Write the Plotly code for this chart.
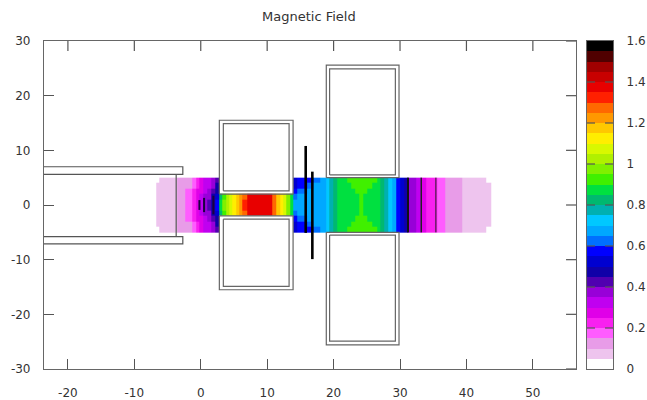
import plotly.graph_objects as go

TITLE = "Magnetic Field"
x_ticks = [-20, -10, 0, 10, 20, 30, 40, 50]
y_ticks = [-30, -20, -10, 0, 10, 20, 30]
cb_ticks = [0, 0.2, 0.4, 0.6, 0.8, 1, 1.2, 1.4, 1.6]
cb_labels = ["0", "0.2", "0.4", "0.6", "0.8", "1", "1.2", "1.4", "1.6"]

palette = ["#ffffff", "#eec4ee", "#e89ce8", "#ff5cff", "#f820f0", "#e000e8", "#c000f0", "#9800d8",
           "#5000b0", "#1000a8", "#0000d0", "#0000ff", "#0070ff", "#00a8ff", "#00c8ff", "#00b0b0",
           "#00b870", "#00e040", "#40f000", "#80f000", "#b0f000", "#d8f800", "#ffee00", "#ffc800",
           "#ff9800", "#ff6800", "#ff2000", "#e80000", "#c80000", "#a00000", "#500000", "#000000"]

field_x_edges = [-6.7, -6.3, -3.5, -2.3, -1.3, -0.7, -0.2, 0.4, 1.0, 1.6, 2.2, 2.8,
                 3.3, 3.8, 4.3, 4.8, 5.3, 5.8, 6.3, 7.0, 10.8, 11.4, 11.9, 12.4, 12.9, 13.4, 13.9,
                 14.5, 15.2, 16, 17, 18, 18.9, 19.4, 20, 20.6, 21.3, 22, 22.6, 23.2, 23.8, 24.5,
                 25.1, 25.8, 26.5, 27, 27.6, 28.2, 28.8, 29.4, 30, 30.6, 31.2, 31.8, 32.5, 33.2,
                 34, 35.6, 36.8, 39.3, 43, 43.8]
field_y_edges = [-5, -4, -3, -2, -1, 0, 1, 2, 3, 4, 5]
N = None
band_0_1 = [.075, .075, .125, .175, .225, .275, .325, .375, .425, .475, .575,
            .875, .975, 1.025, 1.075, 1.125, 1.175, 1.225, 1.325, 1.375, 1.275, 1.175, 1.125, 1.075, .975, .875,
            .675, .675, .675, .675, .675, .675, .725, .775, .825, .875, .875, .875, .875, .875, .925,
            .875, .875, .875, .875, .825, .775, .725, .675, .575, .525, .475, .375, .375, .325, .275,
            .225, .175, .125, .075, .075]
band_1_2 = [.075, .075, .125, .175, .225, .275, .325, .375, .375, .475, .525,
            .825, .925, 1.025, 1.075, 1.125, 1.175, 1.225, 1.275, 1.375, 1.275, 1.175, 1.125, 1.075, .975, .875,
            .625, .675, .675, .675, .675, .675, .725, .775, .825, .875, .875, .875, .875, .875, .925,
            .875, .875, .875, .875, .825, .775, .725, .675, .575, .525, .475, .375, .375, .325, .275,
            .225, .175, .125, .075, .075]
band_2_3 = [.075, .075, .125, .175, .225, .275, .275, .325, .375, .425, .475,
            N, N, N, N, N, N, N, N, N, N, N, N, N, N, N,
            .575, .625, .625, .675, .675, .675, .725, .775, .825, .875, .875, .875, .875, .925, .925,
            .925, .875, .875, .875, .825, .775, .725, .675, .575, .525, .475, .375, .375, .325, .275,
            .225, .175, .125, .075, .075]
band_3_4 = [.075, .075, .125, .125, .175, .225, .275, .325, .325, .375, .475,
            N, N, N, N, N, N, N, N, N, N, N, N, N, N, N,
            .525, .575, .575, .625, .675, .675, .725, .775, .825, .875, .875, .875, .925, .925, .925,
            .925, .925, .875, .875, .825, .775, .725, .675, .575, .525, .475, .375, .375, .325, .275,
            .225, .175, .125, .075, .075]
band_4_5 = [N, .075, .125, .125, .175, .225, .275, .325, .325, .375, .425,
            N, N, N, N, N, N, N, N, N, N, N, N, N, N, N,
            .525, .575, .575, .575, .625, .675, .725, .775, .825, .875, .875, .925, .925, .925, .925,
            .925, .925, .925, .875, .825, .775, .725, .675, .575, .525, .475, .375, .375, .325, .275,
            .225, .175, .125, .075, N]
field_rows = [band_4_5, band_3_4, band_2_3, band_1_2, band_0_1,
              band_0_1, band_1_2, band_2_3, band_3_4, band_4_5]

coil_x = [2.8, 13.9, 13.9, 2.8, 2.8, None, 3.4, 13.3, 13.3, 3.4, 3.4, None,
          2.8, 13.9, 13.9, 2.8, 2.8, None, 3.4, 13.3, 13.3, 3.4, 3.4, None,
          18.9, 29.85, 29.85, 18.9, 18.9, None, 19.4, 29.3, 29.3, 19.4, 19.4, None,
          18.9, 29.85, 29.85, 18.9, 18.9, None, 19.4, 29.3, 29.3, 19.4, 19.4]
coil_y = [2.0, 2.0, 15.5, 15.5, 2.0, None, 2.6, 2.6, 14.9, 14.9, 2.6, None,
          -2.0, -2.0, -15.5, -15.5, -2.0, None, -2.6, -2.6, -14.9, -14.9, -2.6, None,
          5.0, 5.0, 25.6, 25.6, 5.0, None, 5.5, 5.5, 24.9, 24.9, 5.5, None,
          -5.0, -5.0, -25.6, -25.6, -5.0, None, -5.5, -5.5, -24.9, -24.9, -5.5]
tube_x = [-23.6, -2.7, -2.7, -23.6, None, -23.6, -2.7, -2.7, -23.6, None, -3.7, -3.7]
tube_y = [5.6, 5.6, 7.0, 7.0, None, -5.8, -5.8, -7.1, -7.1, None, 5.6, -5.8]
plate_a_x = [15.8, 15.8]
plate_a_y = [10.8, -5.1]
plate_b_x = [16.8, 16.8]
plate_b_y = [6.1, -9.9]
foil_thick_x = [31.2, 31.2]
foil_thick_y = [5.0, -5.0]
foil_mid_x = [33.2, 33.2]
foil_mid_y = [5.0, -5.0]
foil_thin_x = [35.4, 35.4]
foil_thin_y = [5.0, -5.0]
probe_x = [-0.2, -0.2, None, 0.5, 0.5, None, 1.9, 1.9]
probe_y = [0.9, -0.9, None, 1.3, -1.3, None, 1.7, -1.7]

cb_edges = [i * 0.05 for i in range(33)]
cb_values = [[i * 0.05 + 0.025] for i in range(32)]

scale = []
for i, c in enumerate(palette):
    scale.append([i / 32, c])
    scale.append([(i + 1) / 32, c])

W, H = 647, 400
L, R, T, B = 43.5, 34, 41, 31
PW = W - L - R
fig = go.Figure()
fig.add_trace(go.Heatmap(x=field_x_edges, y=field_y_edges, z=field_rows, colorscale=scale, zmin=0, zmax=1.6,
                         showscale=False, zsmooth=False, hoverongaps=False, xaxis="x", yaxis="y"))


def line(x, y, color, width):
    fig.add_trace(go.Scatter(x=x, y=y, mode="lines", line=dict(color=color, width=width),
                             showlegend=False, connectgaps=False, xaxis="x", yaxis="y"))


line(coil_x, coil_y, "#666666", 1.2)
line(tube_x, tube_y, "#555555", 1.2)
line(plate_a_x, plate_a_y, "#000000", 2.6)
line(plate_b_x, plate_b_y, "#000000", 2.6)
line(foil_thick_x, foil_thick_y, "#111111", 2)
line(foil_mid_x, foil_mid_y, "#222222", 1.5)
line(foil_thin_x, foil_thin_y, "#222222", 1)
line(probe_x, probe_y, "#1a0040", 2)

fig.add_trace(go.Heatmap(x=[0, 1], y=cb_edges, z=cb_values, colorscale=scale, zmin=0, zmax=1.6,
                         showscale=False, xaxis="x2", yaxis="y2"))

TICK_COLOR = "#555555"
tick_shapes = []
for v in x_ticks:
    tick_shapes.append(dict(type="line", xref="x", yref="y domain", x0=v, x1=v, y0=1, y1=1 - 10 / 328,
                            line=dict(color=TICK_COLOR, width=1.2)))
for v in y_ticks:
    tick_shapes.append(dict(type="line", xref="x domain", yref="y", x0=1, x1=1 - 10 / 532.5, y0=v, y1=v,
                            line=dict(color=TICK_COLOR, width=1.2)))
for v in cb_ticks[1:-1]:
    tick_shapes.append(dict(type="line", xref="x2 domain", yref="y2", x0=0, x1=8 / 26, y0=v, y1=v,
                            line=dict(color=TICK_COLOR, width=1.2)))
    tick_shapes.append(dict(type="line", xref="x2 domain", yref="y2", x0=1, x1=1 - 8 / 26, y0=v, y1=v,
                            line=dict(color=TICK_COLOR, width=1.2)))

FONT = dict(family="DejaVu Sans", size=12, color="#333333")
AX = dict(showgrid=False, zeroline=False, showline=True, linecolor="#666666", linewidth=1.2, mirror=True,
          ticks="inside", ticklen=10, tickcolor=TICK_COLOR, tickwidth=1.2, tickfont=FONT)
fig.update_layout(
    width=W, height=H, margin=dict(l=L, r=R, t=T, b=B, autoexpand=False), paper_bgcolor="white",
    plot_bgcolor="white", showlegend=False, shapes=tick_shapes,
    xaxis=dict(AX, domain=[0, (576 - L) / PW], range=[-23.6, 56.5], tickvals=x_ticks,
               ticktext=[str(v) for v in x_ticks], ticklabelstandoff=12),
    yaxis=dict(AX, domain=[0, 1], range=[-30, 30], tickvals=y_ticks,
               ticktext=[str(v) for v in y_ticks], ticklabelstandoff=10),
    xaxis2=dict(domain=[(587 - L) / PW, 1], range=[0, 1], showticklabels=False, showgrid=False, zeroline=False,
                showline=True, linecolor="#666666", linewidth=1.2, mirror=True, ticks="", anchor="y2"),
    yaxis2=dict(AX, domain=[0, 1], range=[0, 1.6], tickvals=cb_ticks, ticktext=cb_labels,
                side="right", anchor="x2", ticklen=0, ticklabelstandoff=10),
    annotations=[dict(text=TITLE, x=(309 - L) / PW, y=1 + 24 / 328, xref="paper", yref="paper", showarrow=False,
                      font=dict(family="DejaVu Sans", size=13, color="#333333"), xanchor="center", yanchor="middle")],
)
fig.write_html("out.html", post_script="document.body.style.margin='0';", config=dict(displayModeBar=False))
